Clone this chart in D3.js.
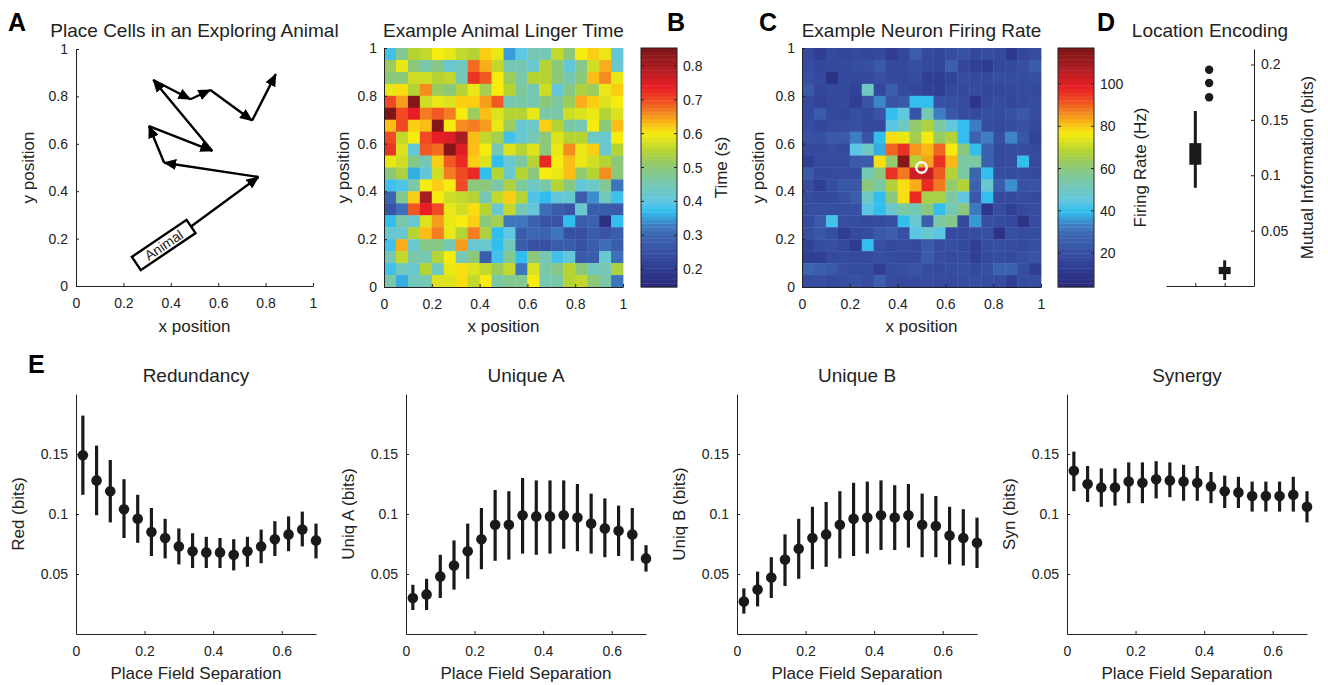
<!DOCTYPE html>
<html><head><meta charset="utf-8">
<script src="https://cdn.jsdelivr.net/npm/d3@7"></script>
<style>
body{margin:0;background:#fff;}
svg text{font-family:"Liberation Sans",Arial,Helvetica,sans-serif;fill:#222;}
</style></head><body>
<svg id="fig" width="1328" height="685"></svg>
<script>
// ---------- data ----------
const posTicks = [0, 0.2, 0.4, 0.6, 0.8, 1];

// trajectory of the animal (x, y in arena units); first point is the animal's nose
const walkX = [0.484, 0.77, 0.372, 0.308, 0.575, 0.326, 0.483, 0.567, 0.743, 0.843];
const walkY = [0.250, 0.46, 0.520, 0.675, 0.570, 0.869, 0.788, 0.827, 0.698, 0.894];
const animalX = 0.370, animalY = 0.173;

// linger time (s) on a 20x20 grid, rows listed from top (y=1) to bottom (y=0)
const lingerTime = [
 [0.38,0.48,0.55,0.56,0.60,0.59,0.56,0.55,0.62,0.59,0.35,0.40,0.45,0.45,0.56,0.50,0.60,0.62,0.59,0.41],
 [0.52,0.59,0.50,0.46,0.49,0.42,0.44,0.68,0.64,0.56,0.45,0.45,0.42,0.55,0.50,0.41,0.49,0.57,0.64,0.42],
 [0.50,0.50,0.57,0.57,0.55,0.56,0.45,0.72,0.69,0.60,0.52,0.46,0.55,0.55,0.50,0.45,0.50,0.63,0.66,0.59],
 [0.59,0.61,0.55,0.66,0.52,0.50,0.55,0.59,0.53,0.60,0.55,0.47,0.45,0.57,0.41,0.49,0.54,0.52,0.59,0.62],
 [0.70,0.65,0.84,0.57,0.59,0.58,0.62,0.62,0.65,0.69,0.45,0.46,0.45,0.50,0.47,0.52,0.64,0.62,0.58,0.60],
 [0.85,0.70,0.74,0.67,0.69,0.67,0.60,0.52,0.63,0.58,0.55,0.55,0.59,0.46,0.46,0.57,0.58,0.59,0.55,0.58],
 [0.63,0.70,0.62,0.63,0.84,0.60,0.66,0.67,0.65,0.59,0.52,0.42,0.43,0.62,0.55,0.46,0.45,0.60,0.50,0.63],
 [0.70,0.56,0.60,0.70,0.74,0.75,0.80,0.63,0.56,0.53,0.38,0.42,0.45,0.50,0.58,0.55,0.55,0.43,0.42,0.60],
 [0.72,0.58,0.41,0.69,0.68,0.84,0.75,0.63,0.60,0.45,0.58,0.55,0.58,0.50,0.59,0.66,0.59,0.62,0.42,0.55],
 [0.59,0.57,0.49,0.45,0.62,0.69,0.73,0.62,0.58,0.37,0.42,0.47,0.55,0.73,0.60,0.63,0.59,0.57,0.55,0.50],
 [0.50,0.54,0.36,0.41,0.57,0.67,0.70,0.73,0.37,0.55,0.42,0.55,0.50,0.60,0.59,0.63,0.51,0.55,0.66,0.50],
 [0.38,0.39,0.46,0.60,0.62,0.60,0.70,0.50,0.50,0.46,0.54,0.47,0.43,0.46,0.55,0.49,0.41,0.43,0.48,0.32],
 [0.29,0.48,0.62,0.80,0.60,0.57,0.56,0.55,0.45,0.56,0.62,0.55,0.39,0.37,0.41,0.42,0.28,0.34,0.44,0.38],
 [0.26,0.31,0.69,0.74,0.70,0.59,0.57,0.61,0.55,0.42,0.56,0.45,0.41,0.31,0.28,0.26,0.42,0.28,0.28,0.27],
 [0.37,0.46,0.42,0.58,0.65,0.59,0.60,0.62,0.50,0.53,0.32,0.32,0.29,0.26,0.26,0.37,0.28,0.29,0.17,0.37],
 [0.42,0.42,0.55,0.63,0.67,0.59,0.55,0.67,0.54,0.37,0.40,0.28,0.30,0.29,0.32,0.25,0.25,0.28,0.26,0.28],
 [0.38,0.64,0.42,0.49,0.49,0.45,0.65,0.42,0.42,0.37,0.44,0.28,0.25,0.25,0.28,0.28,0.25,0.28,0.31,0.28],
 [0.45,0.56,0.46,0.45,0.55,0.60,0.45,0.50,0.28,0.38,0.48,0.37,0.50,0.45,0.38,0.41,0.27,0.28,0.42,0.31],
 [0.38,0.44,0.42,0.55,0.44,0.59,0.61,0.58,0.56,0.52,0.56,0.32,0.58,0.46,0.49,0.55,0.50,0.44,0.45,0.54],
 [0.46,0.36,0.44,0.45,0.58,0.58,0.61,0.56,0.60,0.46,0.48,0.48,0.60,0.45,0.46,0.55,0.56,0.50,0.46,0.32]
];
const lingerRange = [0.147, 0.853];
const lingerTicks = [0.2, 0.3, 0.4, 0.5, 0.6, 0.7, 0.8];

// firing rate (Hz) on a 20x20 grid, rows from top to bottom
const firingRate = [
 [18,14,18,17,18,17,18,14,17,25,18,17,19,21,17,19,18,12,17,19],
 [19,17,18,18,19,20,24,18,18,20,18,17,26,17,14,13,17,18,20,25],
 [20,18, 8,18,17,18,20,18,17,19,14,14,16,19,18,18,20,19,19,20],
 [24,17,18,18,16,50,17,26,18,17,15,14,18,18,19,17,17,18,19,18],
 [18,15,17,18,14,22,34,22,24,40,40,21,20,19,10,18,19,17,18,19],
 [18,25,18,17,20,18,22,40,45,22,52,33,23,19,18,20,19,21,24,19],
 [19,17,18,19,20,18,17,44,50,62,67,55,45,40,33,19,18,19,21,18],
 [21,20,24,24,33,22,40,78,75,65,76,63,68,40,27,33,20,34,23,16],
 [18,18,19,18,44,50,38,90,96,85,82,90,76,60,40,27,18,19,19,18],
 [14,18,18,18,24,25,78,62,115,68,84,96,82,55,55,27,18,19,40,18],
 [24,18,18,19,19,52,60,96,88,103,104,91,68,55,28,40,20,19,19,18],
 [19,14,19,23,23,60,55,68,78,83,97,88,62,68,27,48,25,35,21,22],
 [19,18,18,21,25,50,40,60,78,97,66,66,55,45,24,40,18,18,19,18],
 [20,20,20,20,20,44,40,48,55,52,60,40,52,60,32,10,19,14,18,19],
 [19,24,42,20,19,18,19,20,40,48,26,55,58,18,36,20,19,18, 9,19],
 [20,23,20,13,18,19,24,26,20,44,48,44,18,18,19,20, 8,20,19,19],
 [15,19,20,18,13,40,20,18,19,18,24,19,20,18,14,19,20,19,18,20],
 [14,14,18,19,18,18,20,19,18,18,25,19,18,19,14,18,19,18,20,22],
 [28,26,24,20,19,19,14,19,20,22,19,18,19,20,18,20,27,27,19,14],
 [19,20,18,19,21,19,26,19,18,18,19,18,18,19,20,19,19,14,19,20]
];
const rateRange = [4, 117];
const rateTicks = [20, 40, 60, 80, 100];
const fieldCenter = [0.5, 0.5];

// location encoding: mutual information distributions (bits)
const boxGroups = [1, 2];
const boxQ1 = [0.1095, 0.0107];
const boxQ3 = [0.1290, 0.0172];
const whiskerLo = [0.0887, 0.0054];
const whiskerHi = [0.1580, 0.0232];
const outlierX = [1.47, 1.47, 1.47];
const outlierY = [0.1952, 0.1833, 0.1705];
const miTicks = [0.05, 0.1, 0.15, 0.2];

// partial information decomposition vs place field separation
const sepX = [0.02,0.06,0.10,0.14,0.18,0.22,0.26,0.30,0.34,0.38,0.42,0.46,0.50,0.54,0.58,0.62,0.66,0.70];
const red    = [0.149,0.128,0.119,0.104,0.096,0.085,0.080,0.073,0.069,0.068,0.068,0.066,0.069,0.073,0.079,0.083,0.087,0.078];
const redLo  = [0.116,0.099,0.093,0.080,0.076,0.065,0.063,0.058,0.055,0.055,0.055,0.053,0.056,0.059,0.065,0.069,0.073,0.063];
const redHi  = [0.182,0.157,0.145,0.129,0.116,0.105,0.096,0.088,0.084,0.081,0.080,0.079,0.081,0.087,0.094,0.098,0.102,0.092];
const uniqA   = [0.030,0.033,0.048,0.057,0.069,0.079,0.091,0.091,0.099,0.098,0.098,0.099,0.097,0.092,0.088,0.086,0.083,0.063];
const uniqALo = [0.020,0.020,0.030,0.037,0.046,0.054,0.061,0.062,0.067,0.066,0.067,0.071,0.069,0.067,0.064,0.065,0.061,0.052];
const uniqAHi = [0.041,0.046,0.066,0.078,0.092,0.105,0.120,0.119,0.130,0.128,0.128,0.128,0.125,0.117,0.113,0.107,0.105,0.074];
const uniqB   = [0.027,0.037,0.047,0.062,0.071,0.080,0.083,0.091,0.096,0.097,0.099,0.097,0.099,0.091,0.090,0.082,0.080,0.076];
const uniqBLo = [0.017,0.023,0.030,0.040,0.046,0.054,0.056,0.063,0.065,0.067,0.070,0.070,0.072,0.064,0.064,0.058,0.057,0.055];
const uniqBHi = [0.038,0.052,0.064,0.083,0.096,0.106,0.110,0.119,0.126,0.127,0.128,0.124,0.125,0.117,0.115,0.106,0.104,0.097];
const syn   = [0.136,0.125,0.122,0.122,0.127,0.126,0.129,0.128,0.127,0.126,0.123,0.119,0.118,0.115,0.115,0.115,0.116,0.106];
const synLo = [0.119,0.110,0.106,0.107,0.109,0.109,0.113,0.114,0.111,0.111,0.109,0.105,0.105,0.102,0.102,0.102,0.102,0.093];
const synHi = [0.152,0.140,0.138,0.138,0.143,0.143,0.144,0.143,0.141,0.140,0.135,0.132,0.131,0.127,0.127,0.127,0.131,0.119];
const sepTicks = [0, 0.2, 0.4, 0.6];
const bitTicks = [0.05, 0.1, 0.15];

const pidPanels = [
  {title: "Redundancy", ylabel: "Red (bits)",    m: red,   lo: redLo,   hi: redHi},
  {title: "Unique A",   ylabel: "Uniq A (bits)", m: uniqA, lo: uniqALo, hi: uniqAHi},
  {title: "Unique B",   ylabel: "Uniq B (bits)", m: uniqB, lo: uniqBLo, hi: uniqBHi},
  {title: "Synergy",    ylabel: "Syn (bits)",    m: syn,   lo: synLo,   hi: synHi}
];

// ---------- styling helpers ----------
const INK = "#222";
const TICK_FS = 14, LABEL_FS = 17, TITLE_FS = 19;
const svg = d3.select("#fig");
const fmt = d => String(d);

// jet-like colormap
const cmapStops = [[0,"#2b2a7a"],[0.075,"#2e3b92"],[0.146,"#3850a3"],[0.217,"#3c66b1"],[0.26,"#3f7fc3"],
  [0.316,"#31bdee"],[0.358,"#5fc7e2"],[0.43,"#76c8b3"],[0.5,"#8bc87a"],[0.57,"#b5d334"],[0.642,"#f6ec0f"],
  [0.68,"#fbc315"],[0.727,"#f58c20"],[0.783,"#ef4a23"],[0.84,"#e61e25"],[0.925,"#a81d22"],[1,"#7b1416"]];
const cmap = d3.scaleLinear().domain(cmapStops.map(d => d[0])).range(cmapStops.map(d => d[1]))
  .interpolate(d3.interpolateRgb).clamp(true);

function styleAxis(sel) {
  sel.attr("font-family", null).attr("font-size", null);
  sel.select(".domain").attr("stroke", INK).attr("stroke-width", 1);
  sel.selectAll(".tick line").attr("stroke", INK);
  sel.selectAll(".tick text").attr("fill", INK).style("font-size", TICK_FS + "px");
}
function axisL(x0, scale, ticks, pad) {
  svg.append("g").attr("transform", `translate(${x0},0)`)
    .call(d3.axisLeft(scale).tickValues(ticks).tickFormat(fmt).tickSize(-3).tickSizeOuter(0).tickPadding(pad || 8))
    .call(styleAxis);
}
function axisB(y0, scale, ticks, pad, noLabels) {
  svg.append("g").attr("transform", `translate(0,${y0})`)
    .call(d3.axisBottom(scale).tickValues(ticks).tickFormat(noLabels ? () => "" : fmt).tickSize(-3).tickSizeOuter(0).tickPadding(pad || 12))
    .call(styleAxis);
}
function txt(x, y, s, size, opts = {}) {
  const t = svg.append("text").attr("x", x).attr("y", y).text(s)
    .style("font-size", size + "px").attr("text-anchor", opts.anchor || "middle");
  if (opts.rot) t.attr("transform", `rotate(${opts.rot},${x},${y})`);
  if (opts.bold) t.style("font-weight", "bold").style("fill", "#000");
  return t;
}
function heatmap(grid, x, y, color) {
  const n = grid.length, m = grid[0].length;
  const g = svg.append("g");
  grid.forEach((row, i) => row.forEach((v, j) => {
    g.append("rect")
      .attr("x", x(j / m)).attr("y", y(1 - i / n))
      .attr("width", x((j + 1) / m) - x(j / m) + 0.4)
      .attr("height", y(1 - (i + 1) / n) - y(1 - i / n) + 0.4)
      .attr("fill", color(v));
  }));
}
function colorbar(x0, x1, range, ticks, color, y) {
  const levels = 64, step = (range[1] - range[0]) / levels;
  const g = svg.append("g");
  d3.range(levels).forEach(k => {
    const a = range[0] + k * step, b = a + step;
    g.append("rect").attr("x", x0).attr("width", x1 - x0)
      .attr("y", y(b)).attr("height", y(a) - y(b) + 0.4).attr("fill", color(a + step / 2));
  });
  g.append("rect").attr("x", x0).attr("y", y(range[1])).attr("width", x1 - x0)
    .attr("height", y(range[0]) - y(range[1])).attr("fill", "none").attr("stroke", INK).attr("stroke-width", 1);
  ticks.forEach(t => {
    g.append("line").attr("x1", x0).attr("x2", x0 + 3).attr("y1", y(t)).attr("y2", y(t)).attr("stroke", INK);
    g.append("line").attr("x1", x1 - 3).attr("x2", x1).attr("y1", y(t)).attr("y2", y(t)).attr("stroke", INK);
    txt(x1 + 6, y(t) + 5, fmt(t), TICK_FS, {anchor: "start"});
  });
}

// ---------- panel letters ----------
txt(8, 31, "A", 25, {anchor: "start", bold: true});
txt(667, 31, "B", 25, {anchor: "start", bold: true});
txt(759, 31, "C", 25, {anchor: "start", bold: true});
txt(1097, 31, "D", 25, {anchor: "start", bold: true});
txt(28, 373, "E", 25, {anchor: "start", bold: true});

// ---------- A: exploring animal ----------
{
  const x = d3.scaleLinear([0, 1], [76, 313]);
  const y = d3.scaleLinear([0, 1], [286, 49]);
  axisL(76, y, posTicks);
  axisB(286, x, posTicks);
  txt(194.5, 37, "Place Cells in an Exploring Animal", TITLE_FS);
  txt(194.5, 332, "x position", LABEL_FS);
  txt(34, 167.5, "y position", LABEL_FS, {rot: -90});

  svg.append("defs").append("marker").attr("id", "head")
    .attr("viewBox", "0 0 13 11").attr("refX", 12).attr("refY", 5.5)
    .attr("markerWidth", 13).attr("markerHeight", 11)
    .attr("markerUnits", "userSpaceOnUse").attr("orient", "auto")
    .append("path").attr("d", "M0,0 L13,5.5 L0,11 Z").attr("fill", "#000");

  for (let k = 0; k < walkX.length - 1; k++) {
    svg.append("line")
      .attr("x1", x(walkX[k])).attr("y1", y(walkY[k]))
      .attr("x2", x(walkX[k + 1])).attr("y2", y(walkY[k + 1]))
      .attr("stroke", "#000").attr("stroke-width", 2.4).attr("marker-end", "url(#head)");
  }
  const ang = Math.atan2(y(walkY[0]) - y(animalY), x(walkX[0]) - x(animalX)) * 180 / Math.PI;
  const ag = svg.append("g").attr("transform", `translate(${x(animalX)},${y(animalY)}) rotate(${ang})`);
  ag.append("rect").attr("x", -33).attr("y", -8).attr("width", 66).attr("height", 16)
    .attr("fill", "#fff").attr("stroke", "#000").attr("stroke-width", 2.4);
  ag.append("text").attr("x", 0).attr("y", 5).attr("text-anchor", "middle").style("font-size", "14px").text("Animal");
}

// ---------- B: linger time ----------
{
  const x = d3.scaleLinear([0, 1], [384, 623]);
  const y = d3.scaleLinear([0, 1], [287, 48]);
  const norm = d3.scaleLinear(lingerRange, [0, 1]);
  heatmap(lingerTime, x, y, v => cmap(norm(v)));
  axisL(384, y, posTicks, 7);
  axisB(287, x, posTicks);
  txt(503.5, 37, "Example Animal Linger Time", TITLE_FS);
  txt(503.5, 332, "x position", LABEL_FS);
  txt(349, 167.5, "y position", LABEL_FS, {rot: -90});
  const cy = d3.scaleLinear(lingerRange, [287, 48]);
  colorbar(641, 677, lingerRange, lingerTicks, v => cmap(norm(v)), cy);
  txt(727, 167.5, "Time (s)", LABEL_FS, {rot: -90});
}

// ---------- C: firing rate ----------
{
  const x = d3.scaleLinear([0, 1], [802, 1041]);
  const y = d3.scaleLinear([0, 1], [287, 48]);
  const norm = d3.scaleLinear(rateRange, [0, 1]);
  heatmap(firingRate, x, y, v => cmap(norm(v)));
  axisL(802, y, posTicks, 7);
  axisB(287, x, posTicks);
  svg.append("circle").attr("cx", x(fieldCenter[0])).attr("cy", y(fieldCenter[1])).attr("r", 5.2)
    .attr("fill", "none").attr("stroke", "#fff").attr("stroke-width", 2.5);
  txt(921.5, 37, "Example Neuron Firing Rate", TITLE_FS);
  txt(921.5, 332, "x position", LABEL_FS);
  txt(764, 167.5, "y position", LABEL_FS, {rot: -90});
  const cy = d3.scaleLinear(rateRange, [287, 48]);
  colorbar(1058, 1094, rateRange, rateTicks, v => cmap(norm(v)), cy);
  txt(1146, 167.5, "Firing Rate (Hz)", LABEL_FS, {rot: -90});
}

// ---------- D: location encoding ----------
{
  const x = d3.scaleLinear([0, 3], [1166, 1254]);
  const y = d3.scaleLinear([0, 0.214], [286, 49]);
  axisB(286, x, boxGroups, 12, true);
  svg.append("g").attr("transform", "translate(1254,0)")
    .call(d3.axisRight(y).tickValues(miTicks).tickFormat(fmt).tickSize(-3).tickSizeOuter(0).tickPadding(7))
    .call(styleAxis);
  const bw = 12;
  boxGroups.forEach((gv, i) => {
    svg.append("line").attr("x1", x(gv)).attr("x2", x(gv))
      .attr("y1", y(whiskerLo[i])).attr("y2", y(whiskerHi[i]))
      .attr("stroke", "#1a1a1a").attr("stroke-width", 3);
    svg.append("rect").attr("x", x(gv) - bw / 2).attr("width", bw)
      .attr("y", y(boxQ3[i])).attr("height", y(boxQ1[i]) - y(boxQ3[i]))
      .attr("fill", "#1a1a1a");
  });
  outlierY.forEach((v, i) => {
    svg.append("circle").attr("cx", x(outlierX[i])).attr("cy", y(v)).attr("r", 4.2).attr("fill", "#1a1a1a");
  });
  txt(1210, 37, "Location Encoding", TITLE_FS);
  txt(1313, 167.5, "Mutual Information (bits)", LABEL_FS, {rot: -90});
}

// ---------- E: partial information vs separation ----------
const eLeft = [76, 406, 737, 1067];
pidPanels.forEach((p, k) => {
  const x0 = eLeft[k];
  const x = d3.scaleLinear([0, 0.7], [x0, x0 + 240]);
  const y = d3.scaleLinear([0, 0.2], [634, 394]);
  axisB(634, x, sepTicks);
  svg.append("g").attr("transform", `translate(${x0},0)`)
    .call(d3.axisLeft(y).tickValues(bitTicks).tickFormat(fmt).tickSize(-3).tickSizeOuter(0).tickPadding(8))
    .call(styleAxis);
  const g = svg.append("g");
  sepX.forEach((sx, i) => {
    g.append("line").attr("x1", x(sx)).attr("x2", x(sx))
      .attr("y1", y(p.lo[i])).attr("y2", y(p.hi[i]))
      .attr("stroke", "#1a1a1a").attr("stroke-width", 3.2);
    g.append("circle").attr("cx", x(sx)).attr("cy", y(p.m[i])).attr("r", 5.3).attr("fill", "#1a1a1a");
  });
  txt(x0 + 120, 382, p.title, TITLE_FS);
  txt(x0 + 120, 679, "Place Field Separation", LABEL_FS);
  txt(x0 - 52, 514, p.ylabel, LABEL_FS, {rot: -90});
});
</script></body></html>
